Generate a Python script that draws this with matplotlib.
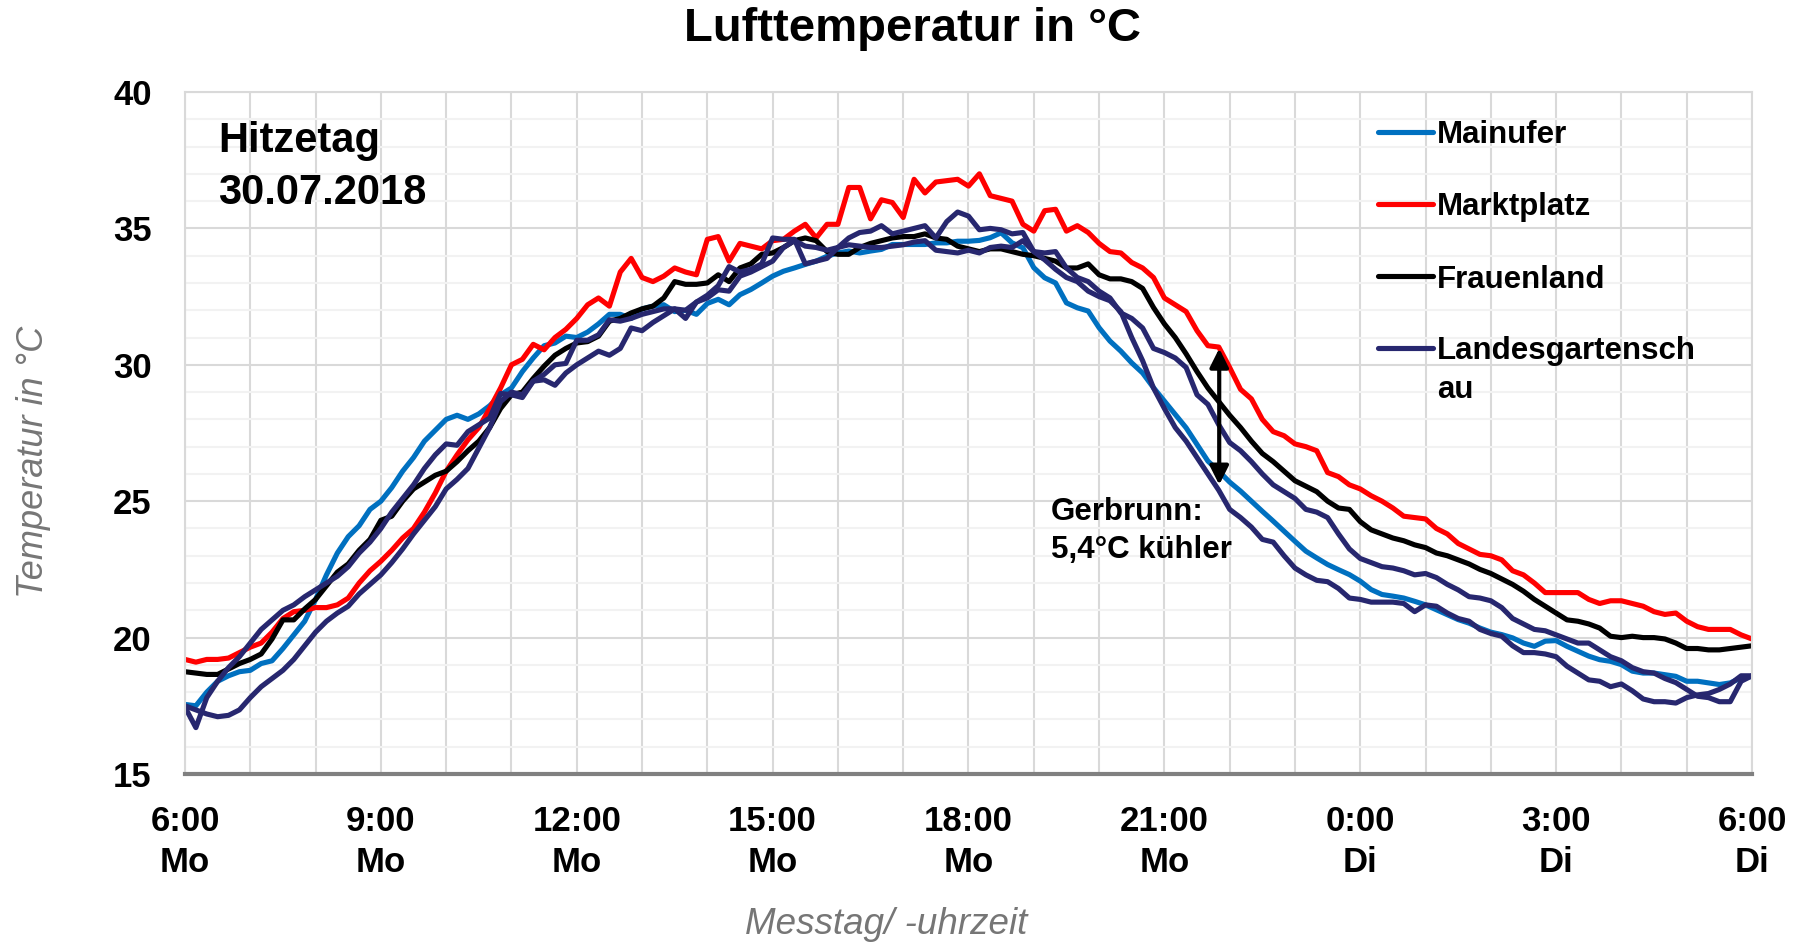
import numpy as np
import matplotlib
matplotlib.use('Agg')
import matplotlib.pyplot as plt

plt.rcParams['font.family'] = ['Liberation Sans', 'DejaVu Sans']

# 10-minute values, 6:00 Mo .. 6:00 Di (145 points)
mainufer = [
    17.55, 17.5, 18.0, 18.4, 18.6, 18.75, 18.8, 19.05, 19.15, 19.6, 20.1, 20.6, 21.4, 22.3, 23.1, 23.7, 24.1, 24.7,
    25.0, 25.5, 26.1, 26.6, 27.2, 27.6, 28.0,
    28.15, 28.0, 28.2, 28.5, 28.9, 29.15, 29.75, 30.25, 30.7, 30.8, 31.05, 31.0, 31.2, 31.5, 31.85, 31.85, 31.7,
    32.05, 32.15, 32.2, 31.95, 32.0, 31.85, 32.25,
    32.4, 32.2, 32.57, 32.76, 33.0, 33.25, 33.43, 33.55, 33.68, 33.8, 33.98, 34.1, 34.17, 34.1, 34.17, 34.23, 34.41,
    34.41, 34.41, 34.41, 34.47, 34.47, 34.53, 34.53,
    34.56, 34.66, 34.84, 34.47, 34.29, 33.56, 33.19, 33.0, 32.27, 32.09, 31.97, 31.36, 30.87, 30.5, 30.07, 29.7,
    29.16, 28.67, 28.18, 27.69, 27.08, 26.47, 26.1, 25.7,
    25.37, 25.0, 24.63, 24.27, 23.9, 23.53, 23.17, 22.92, 22.68, 22.49, 22.31, 22.07, 21.76, 21.58, 21.52, 21.45,
    21.33, 21.2, 21.02, 20.84, 20.66, 20.53, 20.35, 20.2,
    20.11, 19.99, 19.8, 19.68, 19.87, 19.89, 19.68, 19.5, 19.32, 19.19, 19.13, 19.01, 18.77, 18.7, 18.7, 18.64,
    18.58, 18.4, 18.4, 18.34, 18.28, 18.34, 18.52, 18.58]

marktplatz = [
    19.2, 19.1, 19.2, 19.2, 19.25, 19.45, 19.65, 19.8, 20.2, 20.7, 20.95, 21.0, 21.1, 21.1, 21.2, 21.45, 22.0, 22.45,
    22.8, 23.2, 23.65, 24.0, 24.6, 25.3, 26.1,
    26.7, 27.25, 27.7, 28.4, 29.15, 30.0, 30.2, 30.75, 30.55, 31.0, 31.3, 31.7, 32.2, 32.45, 32.15, 33.4, 33.9, 33.2,
    33.05, 33.25, 33.55, 33.4, 33.3, 34.6,
    34.7, 33.8, 34.45, 34.35, 34.25, 34.55, 34.6, 34.9, 35.15, 34.65, 35.15, 35.15, 36.5, 36.5, 35.35, 36.05, 35.95,
    35.4, 36.8, 36.3, 36.7, 36.75, 36.8, 36.55,
    37.0, 36.2, 36.1, 36.0, 35.15, 34.9, 35.65, 35.7, 34.9, 35.1, 34.85, 34.45, 34.15, 34.1, 33.75, 33.55, 33.2,
    32.45, 32.2, 31.95, 31.25, 30.7, 30.65, 29.9,
    29.1, 28.75, 28.0, 27.55, 27.4, 27.1, 27.0, 26.85, 26.05, 25.9, 25.6, 25.45, 25.2, 25.0, 24.75, 24.45, 24.4,
    24.35, 24.0, 23.8, 23.45, 23.25, 23.05, 23.0,
    22.85, 22.45, 22.3, 22.0, 21.65, 21.65, 21.65, 21.65, 21.4, 21.25, 21.35, 21.35, 21.25, 21.15, 20.95, 20.85,
    20.9, 20.6, 20.4, 20.3, 20.3, 20.3, 20.1, 19.95]

frauenland = [
    18.75, 18.7, 18.65, 18.65, 18.85, 19.05, 19.2, 19.4, 19.95, 20.65, 20.65, 21.05, 21.4, 21.9, 22.4, 22.7, 23.2,
    23.6, 24.3, 24.45, 25.0, 25.45, 25.7, 25.95, 26.1,
    26.45, 26.85, 27.2, 27.7, 28.4, 28.9, 29.0, 29.5, 29.95, 30.35, 30.6, 30.8, 30.85, 31.05, 31.6, 31.7, 31.9,
    32.05, 32.15, 32.45, 33.05, 32.95, 32.95, 33.0,
    33.3, 33.05, 33.55, 33.7, 34.05, 34.1, 34.3, 34.55, 34.65, 34.55, 34.15, 34.05, 34.05, 34.3, 34.45, 34.55,
    34.65, 34.7, 34.7, 34.8, 34.65, 34.6, 34.35, 34.25,
    34.15, 34.25, 34.25, 34.15, 34.05, 34.0, 33.9, 33.8, 33.55, 33.55, 33.7, 33.3, 33.15, 33.15, 33.05, 32.8, 32.1,
    31.5, 31.0, 30.4, 29.75, 29.15, 28.65, 28.15,
    27.7, 27.2, 26.75, 26.45, 26.1, 25.75, 25.55, 25.35, 25.0, 24.75, 24.7, 24.25, 23.95, 23.8, 23.65, 23.55, 23.4,
    23.3, 23.1, 23.0, 22.85, 22.7, 22.5, 22.35,
    22.15, 21.95, 21.7, 21.4, 21.15, 20.9, 20.65, 20.6, 20.5, 20.35, 20.05, 20.0, 20.05, 20.0, 20.0, 19.95, 19.8,
    19.6, 19.6, 19.55, 19.55, 19.6, 19.65, 19.7]

landesgartenschau = [
    17.45, 16.7, 17.8, 18.4, 18.9, 19.3, 19.8, 20.3, 20.65, 21.0, 21.2, 21.5, 21.75, 22.0, 22.25, 22.6, 23.1, 23.5,
    24.0, 24.6, 25.1, 25.6, 26.2, 26.7, 27.1,
    27.05, 27.55, 27.8, 28.05, 28.95, 28.9, 28.8, 29.4, 29.65, 30.0, 30.05, 30.9, 30.9, 31.1, 31.65, 31.6, 31.7,
    31.85, 31.95, 32.05, 32.05, 31.7, 32.3, 32.55,
    32.9, 33.6, 33.4, 33.5, 33.7, 34.65, 34.6, 34.6, 33.7, 33.8, 33.9, 34.3, 34.65, 34.85, 34.9, 35.1, 34.8, 34.9,
    35.0, 35.1, 34.65, 35.25, 35.6, 35.45,
    34.95, 35.0, 34.95, 34.8, 34.85, 34.15, 34.1, 34.15, 33.55, 33.2, 33.05, 32.7, 32.45, 31.9, 31.7, 31.35, 30.6,
    30.45, 30.25, 29.9, 28.9, 28.55, 27.8, 27.15,
    26.85, 26.45, 26.0, 25.6, 25.35, 25.1, 24.7, 24.6, 24.4, 23.8, 23.25, 22.9, 22.75, 22.6, 22.55, 22.45, 22.3,
    22.35, 22.2, 21.95, 21.75, 21.5, 21.45, 21.35,
    21.1, 20.7, 20.5, 20.3, 20.25, 20.1, 19.95, 19.8, 19.8, 19.55, 19.3, 19.15, 18.9, 18.75, 18.7, 18.5, 18.35,
    18.1, 17.85, 17.8, 17.65, 17.65, 18.4, 18.6]

gerbrunn = [
    17.5, 17.35, 17.2, 17.1, 17.15, 17.35, 17.8, 18.2, 18.5, 18.8, 19.2, 19.7, 20.2, 20.6, 20.9, 21.15, 21.6, 21.95,
    22.3, 22.75, 23.25, 23.8, 24.3, 24.8, 25.45,
    25.8, 26.2, 26.95, 27.7, 28.65, 29.0, 28.9, 29.4, 29.45, 29.25, 29.7, 30.0, 30.25, 30.5, 30.35, 30.6, 31.35,
    31.25, 31.55, 31.8, 32.05, 32.0, 32.3, 32.45,
    32.75, 32.7, 33.25, 33.4, 33.6, 33.8, 34.3, 34.55, 34.35, 34.3, 34.2, 34.3, 34.4, 34.35, 34.3, 34.3, 34.35,
    34.4, 34.5, 34.55, 34.2, 34.15, 34.1, 34.2,
    34.1, 34.3, 34.35, 34.3, 34.55, 34.15, 33.85, 33.5, 33.2, 33.05, 32.7, 32.5, 32.35, 31.95, 31.0, 30.15, 29.15,
    28.4, 27.7, 27.2, 26.6, 26.0, 25.4, 24.7,
    24.4, 24.05, 23.6, 23.5, 23.0, 22.55, 22.3, 22.1, 22.05, 21.8, 21.45, 21.4, 21.3, 21.3, 21.3, 21.25, 20.95,
    21.2, 21.15, 20.9, 20.7, 20.6, 20.3, 20.15,
    20.05, 19.7, 19.45, 19.45, 19.4, 19.3, 18.95, 18.7, 18.45, 18.4, 18.2, 18.3, 18.05, 17.75, 17.65, 17.65, 17.6,
    17.8, 17.9, 17.95, 18.1, 18.3, 18.6, 18.6]

tick_hours = [0, 3, 6, 9, 12, 15, 18, 21, 24]
tick_labels = ['6:00\nMo', '9:00\nMo', '12:00\nMo', '15:00\nMo', '18:00\nMo', '21:00\nMo',
               '0:00\nDi', '3:00\nDi', '6:00\nDi']

BLUE = '#0070C0'
RED = '#FF0000'
BLACK = '#000000'
NAVY = '#27276F'
LW = 3.7

for name, vals in [('mainufer', mainufer), ('marktplatz', marktplatz), ('frauenland', frauenland),
                   ('landesgartenschau', landesgartenschau), ('gerbrunn', gerbrunn)]:
    assert len(vals) == 145, (name, len(vals))

hours = np.arange(145) / 6.0

fig = plt.figure(figsize=(18.06, 9.46), dpi=100)
ax = fig.add_axes([185 / 1806, 172 / 946, 1567 / 1806, 682 / 946])

ax.plot(hours, mainufer, color=BLUE, lw=LW)
ax.plot(hours, marktplatz, color=RED, lw=LW)
ax.plot(hours, frauenland, color=BLACK, lw=LW)
ax.plot(hours, landesgartenschau, color=NAVY, lw=LW)
ax.plot(hours, gerbrunn, color=NAVY, lw=LW)

ax.set_xlim(0, 24)
ax.set_ylim(15, 40)
ax.set_xticks(tick_hours)
ax.set_xticklabels(tick_labels)
ax.set_xticks(range(25), minor=True)
ax.set_yticks(range(15, 41, 5))
ax.set_yticks(range(15, 41), minor=True)

ax.set_axisbelow(True)
ax.grid(which='major', color='#D9D9D9', lw=1.5)
ax.grid(which='minor', axis='x', color='#D9D9D9', lw=1.5)
ax.grid(which='minor', axis='y', color='#F2F2F2', lw=1.5)

for side in ['left', 'right', 'top']:
    ax.spines[side].set_color('#D9D9D9')
    ax.spines[side].set_linewidth(1.5)
ax.spines['bottom'].set_color('#808080')
ax.spines['bottom'].set_linewidth(3)

ax.tick_params(which='both', length=0)
ax.tick_params(axis='x', pad=22, labelsize=25)
ax.tick_params(axis='y', pad=24, labelsize=25)
for lab in ax.get_xticklabels() + ax.get_yticklabels():
    lab.set_fontweight('bold')
for lab in ax.get_xticklabels():
    lab.set_linespacing(1.33)

fig.text(0.5055, 0.969, 'Lufttemperatur in °C', ha='center', va='center', fontsize=34, fontweight='bold')
fig.text(34 / 1806, 1 - 462 / 946, 'Temperatur in °C', rotation=90, ha='center', va='center',
         fontsize=26, style='italic', color='#767676')
fig.text(886 / 1806, 1 - 924 / 946, 'Messtag/ -uhrzeit', ha='center', va='center',
         fontsize=26.5, style='italic', color='#767676')

ax.text(0.021, 0.957, 'Hitzetag\n30.07.2018', transform=ax.transAxes, ha='left', va='top',
        fontsize=30, fontweight='bold', linespacing=1.37)

# Gerbrunn annotation with double arrow
ax.annotate('', xy=(15.84, 30.6), xytext=(15.84, 25.6),
            arrowprops=dict(arrowstyle='<|-|>', color='black', lw=3, mutation_scale=28, shrinkA=0, shrinkB=0))
ax.text(13.26, 25.15, 'Gerbrunn:\n5,4°C kühler', ha='left', va='top', fontsize=22.5, fontweight='bold',
        linespacing=1.36)

# legend
legend_rows = [(0.9418, 'Mainufer', BLUE), (0.8358, 'Marktplatz', RED), (0.7302, 'Frauenland', BLACK),
               (0.6246, 'Landesgartensch\nau', NAVY)]
for y, label, col in legend_rows:
    ax.plot([0.7613, 0.7964], [y, y], transform=ax.transAxes, color=col, lw=LW, solid_capstyle='round')
    if '\n' in label:
        ax.text(0.799, y + 0.0172, label, transform=ax.transAxes, ha='left', va='top', fontsize=22.5,
                fontweight='bold', linespacing=1.36)
    else:
        ax.text(0.799, y, label, transform=ax.transAxes, ha='left', va='center_baseline', fontsize=22.5,
                fontweight='bold')

fig.savefig('out.png', dpi=100)
